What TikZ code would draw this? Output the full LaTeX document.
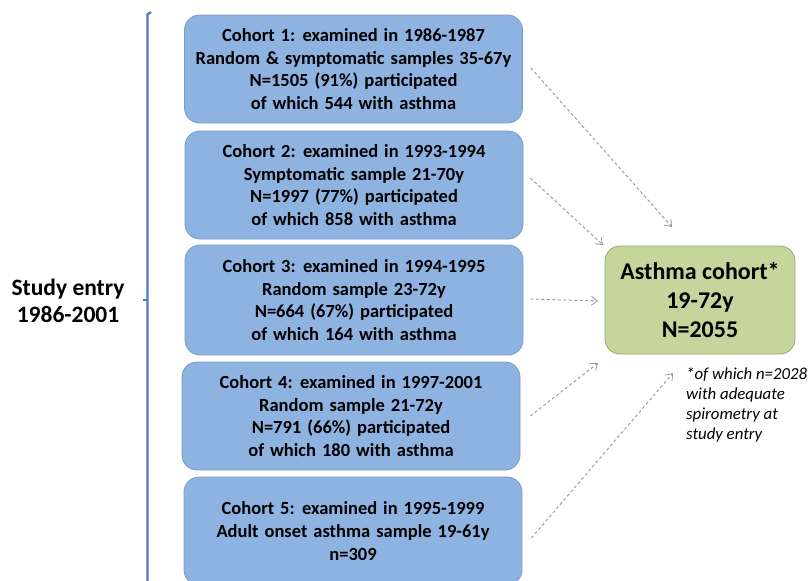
\documentclass[tikz,border=0pt]{standalone}
\usepackage{fontspec}
\setmainfont{Carlito}
\usetikzlibrary{arrows.meta}
\newcommand\mywidesp{\spaceskip=6pt plus 1pt minus 1pt\relax}
\definecolor{boxblue}{RGB}{143,179,225}
\definecolor{boxblueedge}{RGB}{120,155,205}
\definecolor{boxgreen}{RGB}{196,214,155}
\definecolor{boxgreenedge}{RGB}{150,172,105}
\definecolor{brackblue}{RGB}{74,124,190}
\definecolor{arrgray}{RGB}{150,150,150}
\tikzset{
  cohort/.style={draw=boxblueedge, fill=boxblue, line width=0.8pt, rounded corners=15pt,
    minimum width=338pt, minimum height=108pt, inner sep=0pt, align=center,
    font=\fontsize{18.5}{22.7}\selectfont\bfseries\mywidesp},
  result/.style={draw=boxgreenedge, fill=boxgreen, line width=0.8pt, rounded corners=15pt,
    minimum width=190pt, minimum height=108pt, inner sep=0pt, align=center,
    font=\fontsize{24}{29}\selectfont\bfseries},
  arr/.style={draw=arrgray, line width=0.9pt, dash pattern=on 3pt off 2.5pt,
    -{Straight Barb[length=6pt,width=9pt,line width=0.8pt]}},
}
\begin{document}
\begin{tikzpicture}[x=1pt,y=-1pt]
\useasboundingbox (0,0) rectangle (809,581);
\fill[white] (0,0) rectangle (809,581);
% bracket
\draw[brackblue, line width=2.4pt] (151,12) -- (147.5,14.5) -- (147.5,600);
\draw[brackblue, line width=1.8pt] (147.5,300) -- (142.5,300);
\node[font=\fontsize{23.5}{27}\selectfont\bfseries, align=center] (entry) at (68,301) {Study entry\\1986-2001};
% cohorts
\node[cohort] (c1) at (353.5,69) {Cohort 1: examined in 1986-1987\\Random \& symptomatic samples 35-67y\\N=1505 (91\%) participated\\of which 544 with asthma};
\node[cohort] (c2) at (354,185) {Cohort 2: examined in 1993-1994\\Symptomatic sample 21-70y\\N=1997 (77\%) participated\\of which 858 with asthma};
\node[cohort, minimum height=110pt] (c3) at (354,300) {Cohort 3: examined in 1994-1995\\Random sample 23-72y\\N=664 (67\%) participated\\of which 164 with asthma};
\node[cohort] (c4) at (351,416) {Cohort 4: examined in 1997-2001\\Random sample 21-72y\\N=791 (66\%) participated\\of which 180 with asthma};
\node[cohort] (c5) at (353,531) {Cohort 5: examined in 1995-1999\\Adult onset asthma sample 19-61y\\n=309};
% result
\node[result] (ac) at (700,300) {Asthma cohort*\\19-72y\\N=2055};
\node[font=\fontsize{16.8}{20}\selectfont\itshape, align=left, anchor=north west, inner sep=0pt] (note) at (686,367) {*of which n=2028\\with adequate\\spirometry at\\study entry};
% arrow ends
\coordinate (t1) at (672,227);
\coordinate (t2) at (603,245);
\coordinate (t3) at (598,301);
\coordinate (t4) at (598,363);
\coordinate (t5) at (673,373);
\draw[arr] ([xshift=8pt,yshift=1pt]c1.east) -- (t1);
\draw[arr] ([xshift=7pt,yshift=7pt]c2.east) -- (t2);
\draw[arr] ([xshift=7pt,yshift=1pt]c3.east) -- (t3);
\draw[arr] ([xshift=10pt]c4.east) -- (t4);
\draw[arr] ([xshift=9pt,yshift=-7pt]c5.east) -- (t5);
\end{tikzpicture}
\end{document}
